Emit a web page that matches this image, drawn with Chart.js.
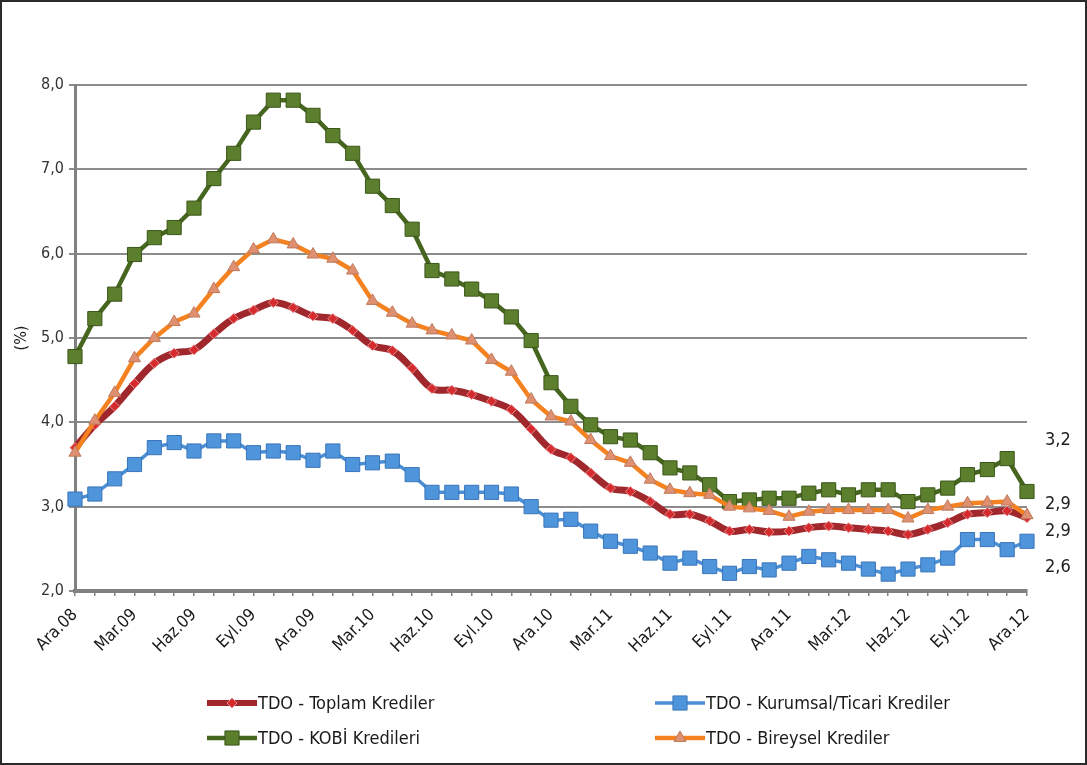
<!DOCTYPE html>
<html>
<head>
<meta charset="utf-8">
<script src="https://cdn.jsdelivr.net/npm/chart.js@4"></script>
<style>
  html, body { margin: 0; padding: 0; background: #ffffff; }
  #wrap { position: relative; width: 1087px; height: 765px; }
  #frame { position: absolute; left: 0; top: 0; width: 1087px; height: 765px; box-sizing: border-box; border: 2px solid #2a2a2a; pointer-events: none; }
  canvas { display: block; }
</style>
</head>
<body>
<div id="wrap">
  <canvas id="c" width="1087" height="765"></canvas>
  <div id="frame"></div>
</div>
<script>
// ---- Data ----
const months = [
  'Ara.08','Oca.09','Şub.09','Mar.09','Nis.09','May.09','Haz.09','Tem.09','Ağu.09','Eyl.09','Eki.09','Kas.09',
  'Ara.09','Oca.10','Şub.10','Mar.10','Nis.10','May.10','Haz.10','Tem.10','Ağu.10','Eyl.10','Eki.10','Kas.10',
  'Ara.10','Oca.11','Şub.11','Mar.11','Nis.11','May.11','Haz.11','Tem.11','Ağu.11','Eyl.11','Eki.11','Kas.11',
  'Ara.11','Oca.12','Şub.12','Mar.12','Nis.12','May.12','Haz.12','Tem.12','Ağu.12','Eyl.12','Eki.12','Kas.12',
  'Ara.12'
];
const toplam = [
  3.70, 3.97, 4.19, 4.46, 4.70, 4.82, 4.86, 5.05, 5.23, 5.33, 5.42, 5.36,
  5.26, 5.23, 5.09, 4.91, 4.85, 4.64, 4.40, 4.38, 4.33, 4.25, 4.15, 3.92,
  3.68, 3.58, 3.40, 3.22, 3.18, 3.06, 2.91, 2.91, 2.83, 2.71, 2.73, 2.70,
  2.71, 2.75, 2.77, 2.75, 2.73, 2.71, 2.67, 2.73, 2.81, 2.91, 2.93, 2.95,
  2.87
];
const kurumsal = [
  3.09, 3.15, 3.33, 3.50, 3.70, 3.76, 3.66, 3.78, 3.78, 3.64, 3.66, 3.64,
  3.55, 3.66, 3.50, 3.52, 3.54, 3.38, 3.17, 3.17, 3.17, 3.17, 3.15, 3.00,
  2.84, 2.85, 2.71, 2.59, 2.53, 2.45, 2.33, 2.39, 2.29, 2.21, 2.29, 2.25,
  2.33, 2.41, 2.37, 2.33, 2.26, 2.20, 2.26, 2.31, 2.39, 2.61, 2.61, 2.49,
  2.59
];
const kobi = [
  4.78, 5.23, 5.52, 5.99, 6.19, 6.31, 6.54, 6.89, 7.19, 7.56, 7.82, 7.82,
  7.64, 7.40, 7.19, 6.80, 6.57, 6.29, 5.80, 5.70, 5.58, 5.44, 5.25, 4.97,
  4.47, 4.19, 3.97, 3.83, 3.79, 3.64, 3.46, 3.40, 3.26, 3.06, 3.08, 3.10,
  3.10, 3.16, 3.20, 3.14, 3.20, 3.20, 3.06, 3.14, 3.22, 3.38, 3.44, 3.57,
  3.18
];
const bireysel = [
  3.64, 4.02, 4.35, 4.76, 5.00, 5.19, 5.29, 5.58, 5.84, 6.05, 6.17, 6.11,
  5.99, 5.94, 5.80, 5.44, 5.30, 5.17, 5.09, 5.03, 4.97, 4.74, 4.60, 4.27,
  4.07, 4.01, 3.79, 3.60, 3.52, 3.32, 3.20, 3.16, 3.14, 3.00, 2.98, 2.95,
  2.88, 2.94, 2.96, 2.96, 2.96, 2.96, 2.86, 2.96, 3.00, 3.04, 3.05, 3.06,
  2.90
];
const seriesNames = ['TDO - Toplam Krediler', 'TDO - Kurumsal/Ticari Krediler', 'TDO - KOBİ Kredileri', 'TDO - Bireysel Krediler'];
const yMin = 2, yMax = 8, yStep = 1;

const FONT = "'Liberation Sans Narrow', 'DejaVu Sans Condensed', 'Roboto', sans-serif";

// ---- Plugins ----
const endLabels = {
  id: 'endLabels',
  afterDatasetsDraw(chart) {
    const ctx = chart.ctx;
    const offsets = [14, 26, -51, -11];
    ctx.save();
    ctx.font = '18px ' + FONT;
    ctx.fillStyle = '#222';
    ctx.textAlign = 'left';
    ctx.textBaseline = 'middle';
    chart.data.datasets.forEach((ds, i) => {
      const meta = chart.getDatasetMeta(i);
      const last = meta.data[meta.data.length - 1];
      const v = ds.data[ds.data.length - 1];
      ctx.fillText(v.toFixed(1).replace('.', ','), last.x + 18, last.y + offsets[i]);
    });
    ctx.restore();
  }
};

const customLegend = {
  id: 'customLegend',
  afterDraw(chart) {
    const ctx = chart.ctx;
    const cols = [207, 655];
    const rows = [703, 738];
    ctx.save();
    chart.data.datasets.forEach((ds, i) => {
      const x = cols[i % 2];
      const y = rows[Math.floor(i / 2)];
      ctx.strokeStyle = ds.borderColor;
      ctx.lineWidth = Math.min(ds.borderWidth, 6);
      ctx.beginPath();
      ctx.moveTo(x, y);
      ctx.lineTo(x + 50, y);
      ctx.stroke();
      ctx.fillStyle = ds.pointBackgroundColor;
      ctx.strokeStyle = ds.pointBorderColor;
      ctx.lineWidth = ds.pointBorderWidth;
      Chart.helpers.drawPoint(ctx, { pointStyle: ds.pointStyle, radius: ds.pointRadius, borderWidth: ds.pointBorderWidth, rotation: 0 }, x + 25, y);
      ctx.font = '18px ' + FONT;
      ctx.fillStyle = '#1a1a1a';
      ctx.textAlign = 'left';
      ctx.textBaseline = 'middle';
      ctx.fillText(ds.label, x + 51, y + 1);
    });
    ctx.restore();
  }
};

// ---- Chart ----
const ctx = document.getElementById('c').getContext('2d');
new Chart(ctx, {
  type: 'line',
  data: {
    labels: months,
    datasets: [
      {
        label: seriesNames[0], data: toplam, order: 4,
        borderColor: '#a0282c', borderWidth: 7, tension: 0.35,
        pointStyle: 'rectRot', pointRadius: 5,
        pointBackgroundColor: '#d52a2e', pointBorderColor: '#e98a8a', pointBorderWidth: 1
      },
      {
        label: seriesNames[1], data: kurumsal, order: 3,
        borderColor: '#4a8fd6', borderWidth: 3.5, tension: 0,
        pointStyle: 'rect', pointRadius: 10,
        pointBackgroundColor: '#4f95dc', pointBorderColor: '#3a74b8', pointBorderWidth: 1
      },
      {
        label: seriesNames[2], data: kobi, order: 2,
        borderColor: '#46661f', borderWidth: 4.5, tension: 0,
        pointStyle: 'rect', pointRadius: 10,
        pointBackgroundColor: '#5b7f2c', pointBorderColor: '#3c561a', pointBorderWidth: 1
      },
      {
        label: seriesNames[3], data: bireysel, order: 1,
        borderColor: '#f58220', borderWidth: 4.5, tension: 0,
        pointStyle: 'triangle', pointRadius: 7,
        pointBackgroundColor: '#df9070', pointBorderColor: '#bf7a5e', pointBorderWidth: 1
      }
    ]
  },
  options: {
    responsive: false,
    animation: false,
    devicePixelRatio: 1,
    layout: { padding: { top: 85, right: 60, left: 12, bottom: 0 } },
    plugins: {
      legend: { display: false },
      tooltip: { enabled: false }
    },
    scales: {
      x: {
        offset: false,
        afterFit(scale) { scale.height = 765 - 591; },
        grid: { drawOnChartArea: false, drawTicks: true, tickLength: 5, color: '#808080', lineWidth: 1.5 },
        border: { display: true, color: '#808080', width: 4 },
        ticks: {
          autoSkip: false, maxRotation: 45, minRotation: 45, padding: 9,
          color: '#1a1a1a', font: { family: FONT, size: 17 },
          callback(val, idx) { return idx % 3 === 0 ? months[idx] : ''; }
        }
      },
      y: {
        min: yMin, max: yMax,
        afterFit(scale) { scale.width = 63; },
        title: { display: true, text: '(%)', color: '#1a1a1a', font: { family: FONT, size: 16 }, padding: 0 },
        grid: { color: '#8c8c8c', lineWidth: 2, tickLength: 6, drawTicks: true },
        border: { display: true, color: '#808080', width: 3 },
        ticks: {
          stepSize: yStep, padding: 5, color: '#333', font: { family: FONT, size: 16 },
          callback(v) { return v.toFixed(1).replace('.', ','); }
        }
      }
    }
  },
  plugins: [endLabels, customLegend]
});
</script>
</body>
</html>
